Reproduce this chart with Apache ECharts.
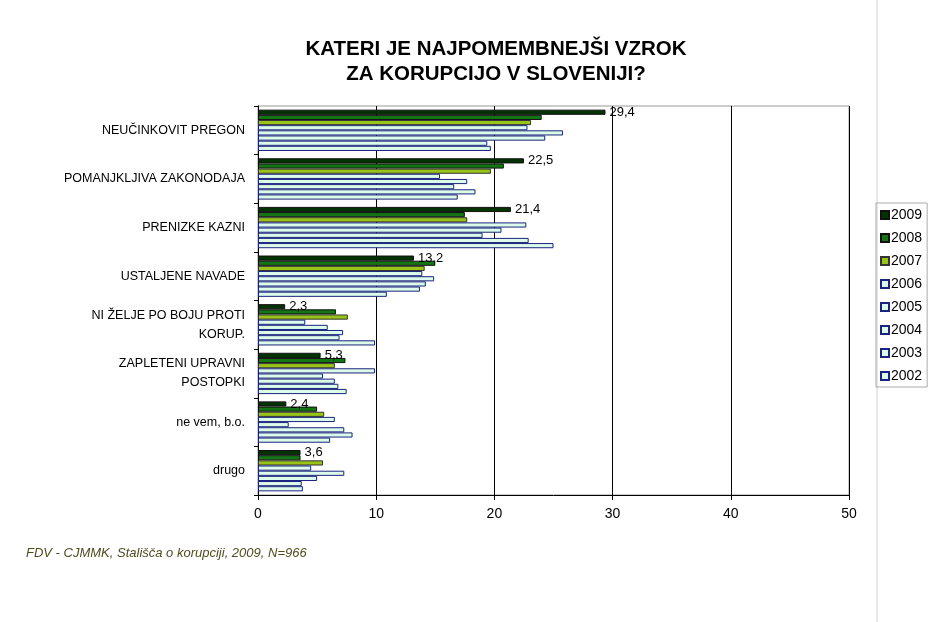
<!DOCTYPE html>
<html>
<head>
<meta charset="utf-8">
<script src="https://cdn.jsdelivr.net/npm/echarts@6/dist/echarts.min.js"></script>
<style>
  html, body { margin: 0; padding: 0; background: #fff; }
  #grafico { width: 940px; height: 622px; }
</style>
</head>
<body>
<div id="grafico"></div>
<script>
// dados
var kategorije = [
    "NEUČINKOVIT PREGON",
    "POMANJKLJIVA ZAKONODAJA",
    "PRENIZKE KAZNI",
    "USTALJENE NAVADE",
    "NI ŽELJE PO BOJU PROTI\nKORUP.",
    "ZAPLETENI UPRAVNI\nPOSTOPKI",
    "ne vem, b.o.",
    "drugo"
];

var leta = ["2009", "2008", "2007", "2006", "2005", "2004", "2003", "2002"];

var v2009 = [29.4, 22.5, 21.4, 13.2, 2.3, 5.3, 2.4, 3.6];
var v2008 = [24.0, 20.8, 17.5, 15.0, 6.6, 7.4, 5.0, 3.6];
var v2007 = [23.1, 19.7, 17.7, 14.1, 7.6, 6.5, 5.6, 5.5];
var v2006 = [22.8, 15.4, 22.7, 13.9, 4.0, 9.9, 6.5, 4.5];
var v2005 = [25.8, 17.7, 20.6, 14.9, 5.9, 5.5, 2.6, 7.3];
var v2004 = [24.3, 16.6, 19.0, 14.2, 7.2, 6.5, 7.3, 5.0];
var v2003 = [19.4, 18.4, 22.9, 13.7, 6.9, 6.8, 8.0, 3.7];
var v2002 = [19.7, 16.9, 25.0, 10.9, 9.9, 7.5, 6.1, 3.8];

var vrednosti = [v2009, v2008, v2007, v2006, v2005, v2004, v2003, v2002];

var polnila = ["#033303", "#137513", "#99c417", "#dcfbe8", "#dcfbe8", "#dcfbe8", "#dcfbe8", "#dcfbe8"];
var robovi = ["#111", "#111", "#333", "#1a237e", "#1a237e", "#1a237e", "#1a237e", "#1a237e"];

var pisava = "Liberation Sans, Arial, sans-serif";

var serije = leta.map((leto, i) => ({
    name: leto,
    type: "bar",
    data: vrednosti[i],
    barGap: "0%",
    barCategoryGap: "15%",
    itemStyle: {
        color: polnila[i],
        borderColor: robovi[i],
        borderWidth: 1
    },
    label: {
        show: i === 0,
        position: "right",
        distance: 4,
        color: "#000",
        fontFamily: pisava,
        fontSize: 13,
        formatter: p => String(p.value).replace(".", ",")
    },
    emphasis: { disabled: true }
}));

var myChart = echarts.init(document.getElementById("grafico"));

var option = {
    animation: false,
    backgroundColor: "#fff",
    title: {
        text: "KATERI JE NAJPOMEMBNEJŠI VZROK\nZA KORUPCIJO V SLOVENIJI?",
        left: 491,
        textAlign: "center",
        top: 32,
        textStyle: {
            fontFamily: pisava,
            fontSize: 20.5,
            fontWeight: "bold",
            color: "#000",
            lineHeight: 25
        }
    },
    legend: {
        orient: "vertical",
        left: 876,
        top: 203,
        icon: "rect",
        itemWidth: 8,
        itemHeight: 8,
        itemGap: 9,
        padding: [5, 5, 4, 4],
        borderColor: "#aaa",
        borderWidth: 1,
        data: leta,
        textStyle: {
            fontFamily: pisava,
            fontSize: 14,
            color: "#000",
            padding: [0, 0, 0, -3]
        }
    },
    grid: {
        left: 258,
        right: 91,
        top: 106,
        bottom: 127,
        show: true,
        borderColor: "#999",
        borderWidth: 1
    },
    xAxis: {
        type: "value",
        min: 0,
        max: 50,
        interval: 10,
        axisLine: { show: true, lineStyle: { color: "#000" } },
        axisTick: { show: true, length: 5, lineStyle: { color: "#000" } },
        splitLine: { show: true, lineStyle: { color: "#000", width: 1 } },
        axisLabel: {
            margin: 12,
            fontFamily: pisava,
            fontSize: 14,
            color: "#000"
        }
    },
    yAxis: {
        type: "category",
        inverse: true,
        data: kategorije,
        axisLine: { show: true, lineStyle: { color: "#000" } },
        axisTick: { show: true, length: 4, lineStyle: { color: "#000" } },
        axisLabel: {
            margin: 13,
            fontFamily: pisava,
            fontSize: 12.5,
            color: "#000",
            lineHeight: 19
        }
    },
    graphic: [
        {
            type: "line",
            shape: { x1: 877, y1: 0, x2: 877, y2: 622 },
            style: { stroke: "#d0d0d0", lineWidth: 1 },
            z: -1
        },
        {
            type: "text",
            left: 26,
            top: 547,
            style: {
                text: "FDV - CJMMK, Stališča o korupciji, 2009, N=966",
                fontFamily: pisava,
                fontSize: 13,
                fontStyle: "italic",
                fill: "#4d4d1f"
            }
        }
    ],
    series: serije
};

myChart.setOption(option);
</script>
</body>
</html>
